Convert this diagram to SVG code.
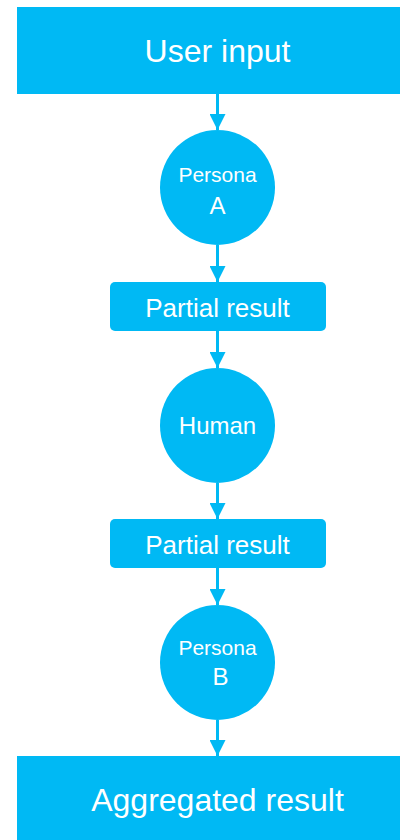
<svg xmlns="http://www.w3.org/2000/svg" width="400" height="840" viewBox="0 0 400 840">
  <style>
    .shape { fill: #00B9F4; }
    .lbl { fill: #ffffff; font-family: "Liberation Sans", Arial, sans-serif; text-anchor: middle; }
    .edge { stroke: #00B9F4; stroke-width: 3; fill: none; marker-end: url(#arrow); }
  </style>
  <defs>
    <marker id="arrow" viewBox="0 0 16 16" refX="16" refY="8" markerWidth="16" markerHeight="16" markerUnits="userSpaceOnUse" orient="auto">
      <path d="M0,0 L16,8 L0,16 Z" fill="#00B9F4"/>
    </marker>
  </defs>

  <g id="connectors">
    <line class="edge" x1="217.5" y1="93" x2="217.5" y2="130"/>
    <line class="edge" x1="217.5" y1="245" x2="217.5" y2="282"/>
    <line class="edge" x1="217.5" y1="331" x2="217.5" y2="368"/>
    <line class="edge" x1="217.5" y1="483" x2="217.5" y2="519"/>
    <line class="edge" x1="217.5" y1="568" x2="217.5" y2="605"/>
    <line class="edge" x1="217.5" y1="720" x2="217.5" y2="756"/>
  </g>

  <g id="user-input">
    <rect class="shape" x="17" y="7" width="383" height="87"/>
    <text class="lbl" x="217.5" y="62" font-size="32">User input</text>
  </g>

  <g id="persona-a">
    <circle class="shape" cx="217.5" cy="187.5" r="57.5"/>
    <text class="lbl" x="217.5" y="182" font-size="21">Persona</text>
    <text class="lbl" x="217.5" y="214" font-size="24">A</text>
  </g>

  <g id="partial-result-1">
    <rect class="shape" x="110" y="282" width="216" height="49" rx="5"/>
    <text class="lbl" x="217.5" y="316.5" font-size="26">Partial result</text>
  </g>

  <g id="human">
    <circle class="shape" cx="217.5" cy="425.5" r="57.5"/>
    <text class="lbl" x="217.5" y="434" font-size="24">Human</text>
  </g>

  <g id="partial-result-2">
    <rect class="shape" x="110" y="519" width="216" height="49" rx="5"/>
    <text class="lbl" x="217.5" y="553.5" font-size="26">Partial result</text>
  </g>

  <g id="persona-b">
    <circle class="shape" cx="217.5" cy="662.5" r="57.5"/>
    <text class="lbl" x="217.5" y="655" font-size="21">Persona</text>
    <text class="lbl" x="220.5" y="685" font-size="24">B</text>
  </g>

  <g id="aggregated-result">
    <rect class="shape" x="17" y="756" width="383" height="84"/>
    <text class="lbl" x="217.5" y="811" font-size="32">Aggregated result</text>
  </g>
</svg>
